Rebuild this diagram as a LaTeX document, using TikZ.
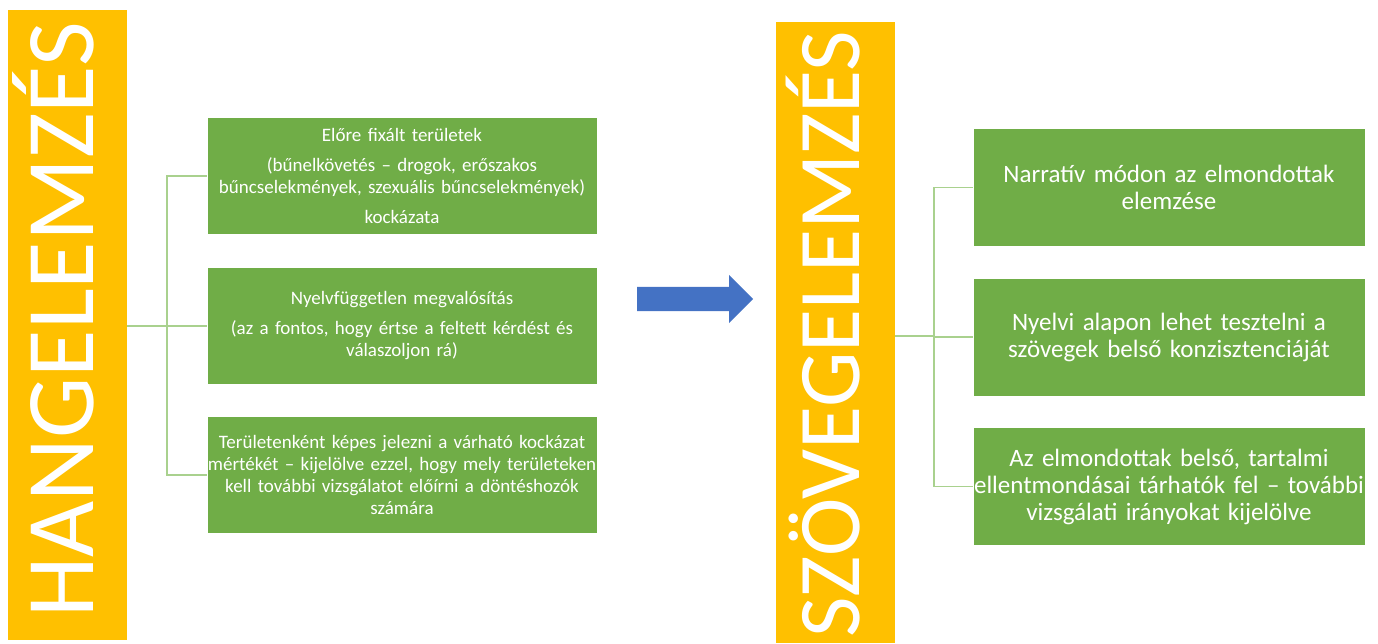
\documentclass[tikz,border=0pt]{standalone}
\usepackage{fontspec}
\setmainfont{Carlito}
\usetikzlibrary{shapes.arrows}

\definecolor{barYellow}{HTML}{FFC000}
\definecolor{boxGreen}{HTML}{70AD47}
\definecolor{lineGreen}{HTML}{A9D18E}
\definecolor{arrowBlue}{HTML}{4472C4}

\def\barWidth{119pt}
\def\boxWidth{390pt}
\def\boxHeight{117pt}

\tikzset{
  titlebar/.style={fill=barYellow, inner sep=0pt, minimum width=\barWidth},
  titletext/.style={rotate=90, anchor=base, text=white, inner sep=0pt},
  greenbox/.style={fill=boxGreen, draw=white, line width=0.6pt, inner sep=0pt,
    minimum width=\boxWidth, minimum height=\boxHeight, text=white, align=center},
  hangbox/.style={greenbox, text width=410pt, inner xsep=-10pt, font=\fontsize{19}{22}\selectfont},
  szovbox/.style={greenbox, minimum width=392pt, minimum height=118pt,
    text width=392pt, font=\fontsize{25}{27}\selectfont},
  branch/.style={draw=lineGreen, line width=1.2pt},
}

\begin{document}
\begin{tikzpicture}[x=1pt, y=-1pt]
    \useasboundingbox (0,0) rectangle (1378,643);

    % left column
    \node[titlebar, minimum height=630pt] (hangbar) at (67.5,325) {};
    \node[titletext, font=\fontsize{97}{97}\selectfont] (hangtitle) at (93,320) {HANGELEMZÉS};

    \node[hangbox] (hbox1) at (402,176) {Előre fixált területek\\[8pt]
      (bűnelkövetés – drogok, erőszakos\\ bűncselekmények, szexuális bűncselekmények)\\[8pt]
      kockázata};
    \node[hangbox] (hbox2) at (402,326) {Nyelvfüggetlen megvalósítás\\[8pt]
      (az a fontos, hogy értse a feltett kérdést és\\ válaszoljon rá)};
    \node[hangbox] (hbox3) at (402,475) {Területenként képes jelezni a várható kockázat\\
      mértékét – kijelölve ezzel, hogy mely területeken\\
      kell további vizsgálatot előírni a döntéshozók\\ számára};

    \coordinate (hangfork) at (167,326);
    \draw[branch] (hangbar.east |- hangfork) -- (hangfork);
    \foreach \i in {1,2,3} {
      \draw[branch] (hangfork) |- (hbox\i.west);
    }

    % arrow between the columns
    \node[single arrow, fill=arrowBlue, inner xsep=0pt, inner ysep=12pt,
      single arrow head extend=12pt, minimum height=116pt, anchor=tail] (shift) at (637,299) {};

    % right column
    \node[titlebar, minimum height=621pt] (szovbar) at (835.5,332.5) {};
    \node[titletext, font=\fontsize{88}{88}\selectfont] (szovtitle) at (859,334) {SZÖVEGELEMZÉS};

    \node[szovbox] (sbox1) at (1169,187.5) {Narratív módon az elmondottak\\ elemzése};
    \node[szovbox] (sbox2) at (1169,337) {Nyelvi alapon lehet tesztelni a\\ szövegek belső konzisztenciáját};
    \node[szovbox] (sbox3) at (1169,486.5) {Az elmondottak belső, tartalmi\\
      ellentmondásai tárhatók fel – további\\ vizsgálati irányokat kijelölve};

    \coordinate (szovfork) at (934,336);
    \draw[branch] (szovbar.east |- szovfork) -- (szovfork);
    \foreach \i in {1,2,3} {
      \draw[branch] (szovfork) |- (sbox\i.west);
    }
  \end{tikzpicture}
\end{document}
